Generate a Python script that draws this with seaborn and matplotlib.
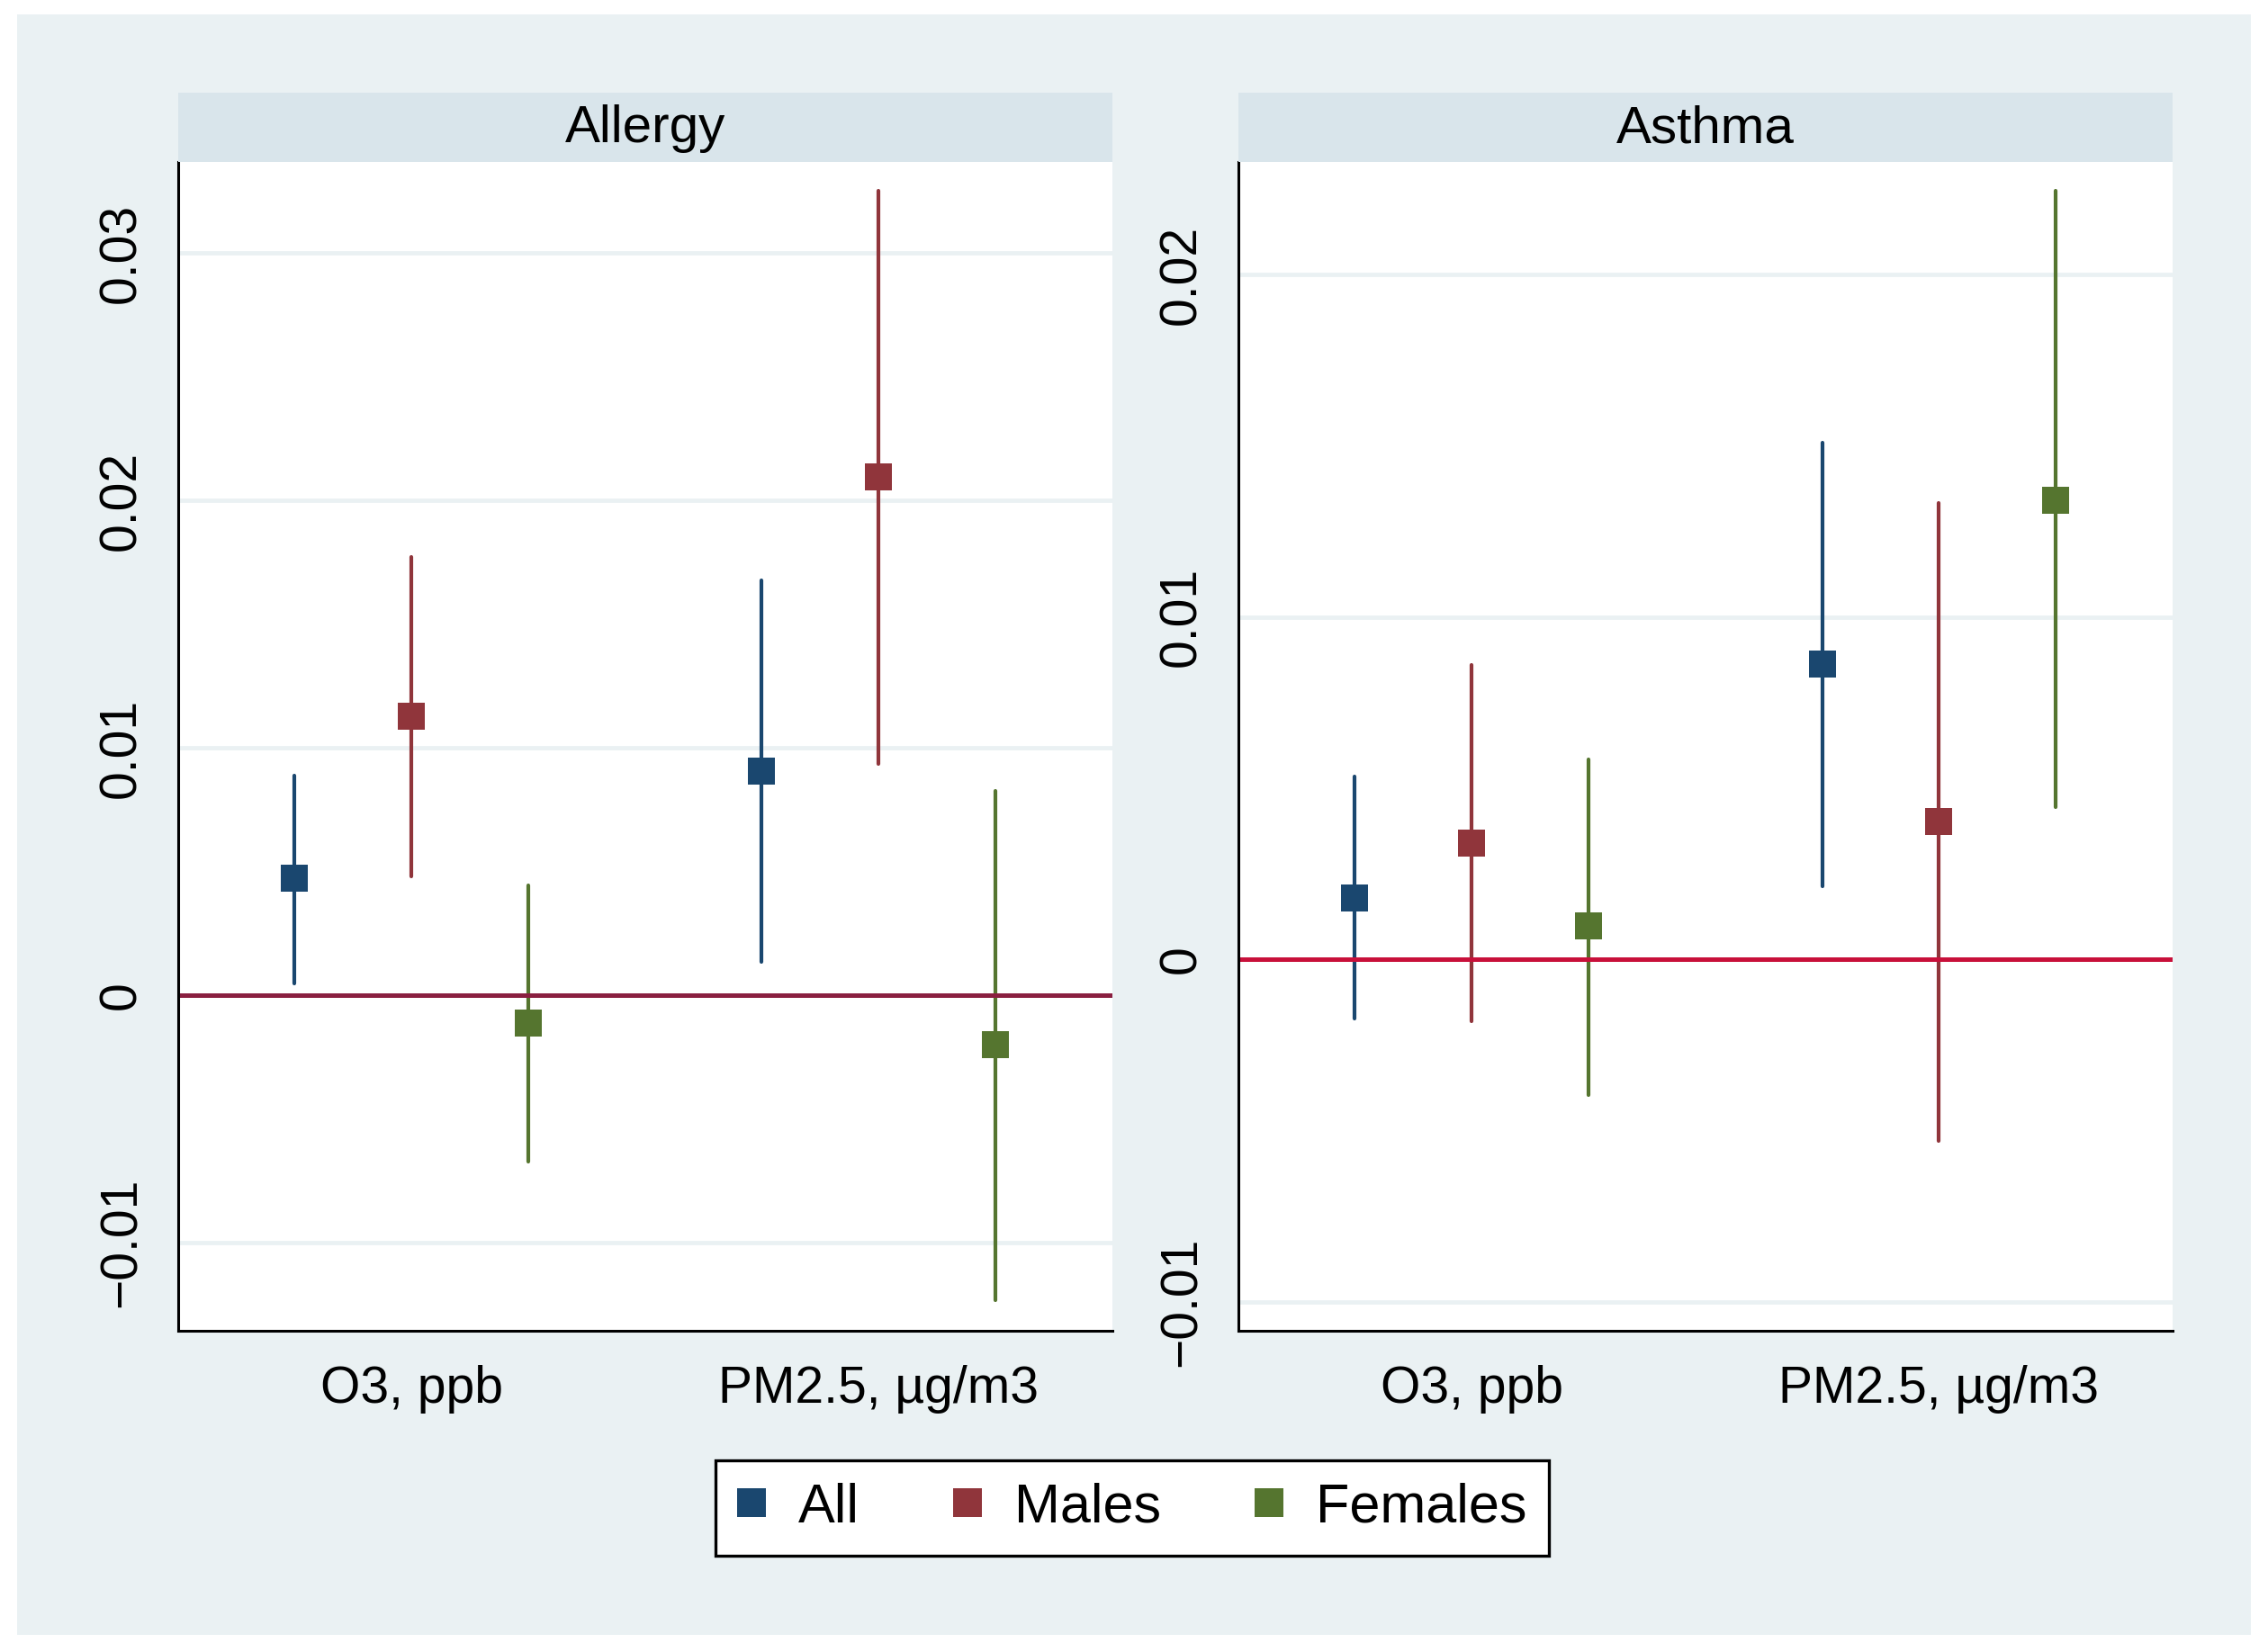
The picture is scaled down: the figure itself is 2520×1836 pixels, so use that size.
import pandas as pd
import matplotlib
matplotlib.use("Agg")
import matplotlib.pyplot as plt
import seaborn as sb
from matplotlib.lines import Line2D
from matplotlib.patches import Rectangle

# DATA
#----------------------------------------------------
exposures = ["O3, ppb", "PM2.5, µg/m3"]
groups = ["All", "Males", "Females"]
colors = ["#1A476F", "#90353B", "#55752F"]

# order: O3 (All, Males, Females), PM2.5 (All, Males, Females)
allergy_est = [0.00474, 0.01129, -0.00111, 0.00906, 0.02094, -0.00199]
allergy_lo = [0.00047, 0.00480, -0.00673, 0.00135, 0.00936, -0.01234]
allergy_hi = [0.00889, 0.01772, 0.00444, 0.01678, 0.03251, 0.00825]

asthma_est = [0.00179, 0.00339, 0.00098, 0.00863, 0.00403, 0.01341]
asthma_lo = [-0.00172, -0.00180, -0.00396, 0.00213, -0.00531, 0.00445]
asthma_hi = [0.00534, 0.00859, 0.00584, 0.01510, 0.01332, 0.02245]

allergy_yticks = [-0.01, 0, 0.01, 0.02, 0.03]
allergy_ylabels = ["\u22120.01", "0", "0.01", "0.02", "0.03"]
allergy_ylim = (-0.01357, 0.03368)

asthma_yticks = [-0.01, 0, 0.01, 0.02]
asthma_ylabels = ["\u22120.01", "0", "0.01", "0.02"]
asthma_ylim = (-0.01085, 0.02329)

BG = "#EAF1F3"
HEADER = "#D9E5EB"
GRID = "#EAF1F3"


# BUILD LONG TABLE (lo / est / hi per cell -> median = est, range = CI)
#----------------------------------------------------
def build_frame(est, lo, hi):
    rows = []
    i = 0
    for exp in exposures:
        for g in groups:
            for v in (lo[i], est[i], hi[i]):
                rows.append({"exposure": exp, "group": g, "value": v})
            i += 1
    return pd.DataFrame(rows)


# ONE PANEL
#----------------------------------------------------
def draw_panel(fig, left, title, df, yticks, ylabels, ylim, zero_color):
    width = 0.412
    bottom = 0.1944
    height = 0.7075
    ax = fig.add_axes([left, bottom, width, height])
    ax.set_facecolor("white")

    sb.pointplot(data=df, x="exposure", y="value", hue="group",
                 order=exposures, hue_order=groups, palette=colors,
                 estimator="median", errorbar=("pi", 100), dodge=0.5,
                 markers="s", linestyle="none", markersize=10.8,
                 markeredgewidth=0, err_kws={"linewidth": 1.5},
                 legend=False, ax=ax)

    ax.axhline(0, color=zero_color, linewidth=1.8, zorder=2.5)

    ax.set_xlim(-0.5, 1.5)
    ax.set_ylim(*ylim)
    ax.set_yticks(yticks, ylabels)
    ax.set_xlabel("")
    ax.set_ylabel("")
    ax.yaxis.grid(True, color=GRID, linewidth=1.7)
    ax.xaxis.grid(False)
    ax.set_axisbelow(True)

    for s in ["top", "right"]:
        ax.spines[s].set_visible(False)
    for s in ["left", "bottom"]:
        ax.spines[s].set_color("black")
        ax.spines[s].set_linewidth(1.1)

    ax.tick_params(axis="y", labelrotation=90, length=7.6, width=1.0,
                   pad=5, labelsize=20.5, colors="black")
    ax.tick_params(axis="x", length=6.5, width=1.0, pad=7, labelsize=20.5,
                   colors="black")
    for lab in ax.get_yticklabels():
        lab.set_va("center")

    hax = fig.add_axes([left, 0.9019, width, 0.042])
    hax.set_facecolor(HEADER)
    hax.set_xticks([])
    hax.set_yticks([])
    for s in hax.spines.values():
        s.set_visible(False)
    hax.text(0.5, 0.48, title, ha="center", va="center", fontsize=21,
             color="black", transform=hax.transAxes)
    return ax


# MAIN
#----------------------------------------------------
def main():
    sb.set_style("white")
    plt.rcParams["font.family"] = ["Liberation Sans", "DejaVu Sans"]
    plt.rcParams["text.color"] = "black"

    fig = plt.figure(figsize=(12.6, 9.18), dpi=200)
    fig.patch.set_facecolor("white")
    fig.patches.append(Rectangle((12 / 1568, 12 / 1142), 1544 / 1568, 1120 / 1142,
                                 transform=fig.transFigure, facecolor=BG,
                                 edgecolor="none", zorder=-10))

    draw_panel(fig, 0.0784, "Allergy",
               build_frame(allergy_est, allergy_lo, allergy_hi),
               allergy_yticks, allergy_ylabels, allergy_ylim, "#8A1F40")
    draw_panel(fig, 0.5459, "Asthma",
               build_frame(asthma_est, asthma_lo, asthma_hi),
               asthma_yticks, asthma_ylabels, asthma_ylim, "#C8103A")

    handles = [Line2D([], [], marker="s", linestyle="none", color=c,
                      markersize=11.2, markeredgewidth=0) for c in colors]
    leg = fig.legend(handles, groups, loc="center", bbox_to_anchor=(0.4992, 0.0871),
                     ncol=3, frameon=True, fancybox=False, edgecolor="black",
                     facecolor="white", framealpha=1, fontsize=22,
                     handlelength=0.51, handletextpad=0.6, columnspacing=1.7,
                     borderpad=0.4, borderaxespad=0)
    leg.get_frame().set_linewidth(1.2)

    fig.savefig("out.png", dpi=200, facecolor=fig.get_facecolor())


if __name__ == "__main__":
    main()
